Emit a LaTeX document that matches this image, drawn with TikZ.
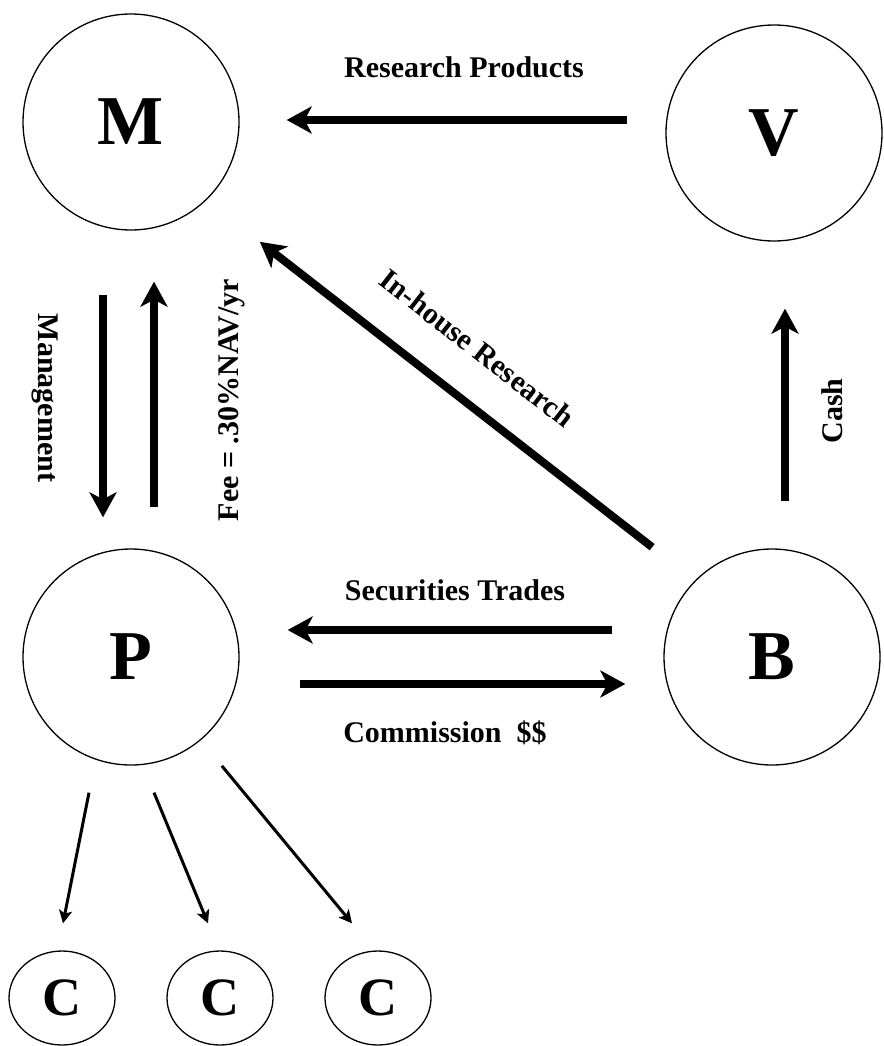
\documentclass[tikz,border=0pt]{standalone}
\usepackage{fontspec}
\setmainfont{Liberation Serif}
\usetikzlibrary{arrows.meta, shapes.geometric}

\begin{document}
\begin{tikzpicture}[x=1pt, y=-1pt,
    party/.style={circle, draw, line width=1.3pt, minimum size=216pt, inner sep=0pt, font=\fontsize{70}{70}\selectfont\bfseries},
    client/.style={ellipse, draw, line width=1.3pt, minimum width=106pt, minimum height=94pt, inner sep=0pt, font=\fontsize{54}{54}\selectfont\bfseries},
    flow/.style={line width=8pt, -{Stealth[length=25pt, width=27pt, inset=7pt]}},
    thinflow/.style={line width=3pt, -{Stealth[length=13pt, width=13pt, inset=3pt]}},
    lbl/.style={inner sep=0pt, font=\fontsize{30}{36}\selectfont\bfseries}]
    \useasboundingbox (0, 0) rectangle (883, 1046);

    %Nodes
    \node[party] at (131, 122) (M) {M};
    \node[party] at (774, 133) (V) {V};
    \node[party] at (131, 657) (P) {P};
    \node[party] at (772, 657) (B) {B};

    \node[client] at (62, 998) (C1) {C};
    \node[client] at (220, 998) (C2) {C};
    \node[client] at (378, 998) (C3) {C};

    %Labels
    \node[lbl] at (464, 67) (lRes) {Research Products};
    \node[lbl, rotate=-90] at (45, 398) (lMan) {Management};
    \node[lbl, rotate=90] at (232, 400) (lFee) {Fee = .30\%NAV/yr};
    \node[lbl, rotate=-37.9] at (477, 348) (lHouse) {In-house Research};
    \node[lbl, rotate=90] at (832, 411) (lCash) {Cash};
    \node[lbl] at (455, 590) (lSec) {Securities Trades};
    \node[lbl] at (445, 733) (lCom) {Commission\ \ \$\$};

    %Lines
    \draw[flow] ([xshift=-38pt, yshift=13pt]V.west) -- ([xshift=47pt, yshift=2pt]M.east);
    \draw[flow] ([xshift=-28pt, yshift=-64pt]M.south) -- ([xshift=-28pt, yshift=31pt]P.north);
    \draw[flow] ([xshift=23pt, yshift=41pt]P.north) -- ([xshift=23pt, yshift=-51pt]M.south);
    \draw[flow] ([xshift=-43pt, yshift=33pt]B.north west) -- ([xshift=52pt, yshift=-43pt]M.south east);
    \draw[flow] ([xshift=13pt, yshift=47pt]B.north) -- ([xshift=11pt, yshift=-67pt]V.south);
    \draw[flow] ([xshift=-51pt, yshift=27pt]B.west) -- ([xshift=48pt, yshift=27pt]P.east);
    \draw[flow] ([xshift=60pt, yshift=-27pt]P.east) -- ([xshift=-38pt, yshift=-27pt]B.west);

    \draw[thinflow] ([xshift=-42pt, yshift=-27pt]P.south) -- ([xshift=1pt, yshift=27pt]C1.north);
    \draw[thinflow] ([xshift=23pt, yshift=-27pt]P.south) -- ([xshift=-12pt, yshift=27pt]C2.north);
    \draw[thinflow] ([xshift=14pt, yshift=-32pt]P.south east) -- ([xshift=-26pt, yshift=27pt]C3.north);

\end{tikzpicture}
\end{document}
